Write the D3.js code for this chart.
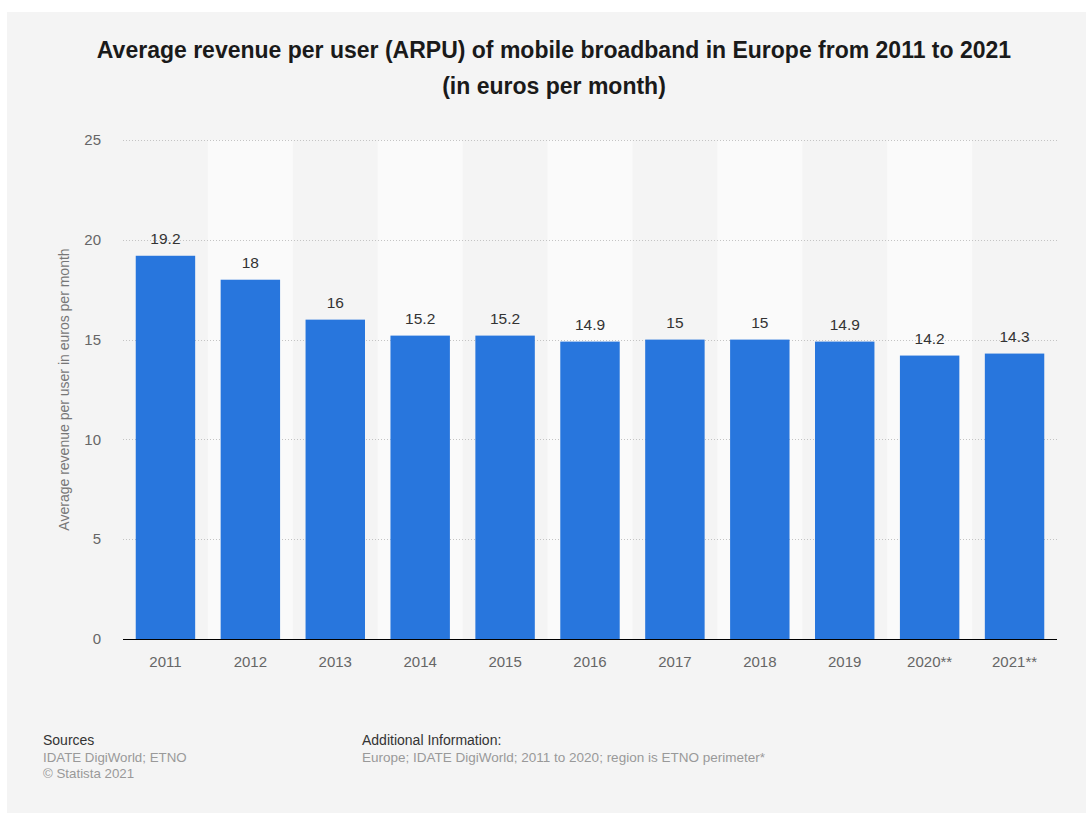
<!DOCTYPE html>
<html>
<head>
<meta charset="utf-8">
<script src="https://cdn.jsdelivr.net/npm/d3@7"></script>
<style>
  html, body { margin: 0; padding: 0; background: #ffffff; }
  svg { display: block; font-family: "Liberation Sans", Arial, Helvetica, sans-serif; }
</style>
</head>
<body>
<svg id="chart" width="1086" height="813"></svg>
<script>
const categories = ["2011", "2012", "2013", "2014", "2015", "2016", "2017", "2018", "2019", "2020**", "2021**"];
const values = [19.2, 18, 16, 15.2, 15.2, 14.9, 15, 15, 14.9, 14.2, 14.3];
const valueLabels = ["19.2", "18", "16", "15.2", "15.2", "14.9", "15", "15", "14.9", "14.2", "14.3"];
const yTicks = [0, 5, 10, 15, 20, 25];
const titleLines = ["Average revenue per user (ARPU) of mobile broadband in Europe from 2011 to 2021", "(in euros per month)"];
const yAxisTitle = "Average revenue per user in euros per month";
const sourcesLines = ["IDATE DigiWorld; ETNO", "© Statista 2021"];
const additionalInfo = "Europe; IDATE DigiWorld; 2011 to 2020; region is ETNO perimeter*";

const svg = d3.select("#chart");
const W = 1086, H = 813;

// background
svg.append("rect").attr("x", 7).attr("y", 12).attr("width", W - 7).attr("height", H - 12).attr("fill", "#f4f4f4");

const plot = { left: 123, right: 1057, top: 140, bottom: 639 };

const x = d3.scaleBand().domain(categories).range([plot.left, plot.right]).paddingInner(0.3).paddingOuter(0.15);
const xBand = d3.scaleBand().domain(categories).range([plot.left, plot.right]).padding(0);
const y = d3.scaleLinear().domain([0, 25]).range([plot.bottom, plot.top]);

// alternating bands
svg.append("g").selectAll("rect").data(categories.filter((d, i) => i % 2 === 1)).join("rect")
  .attr("x", d => xBand(d)).attr("width", xBand.bandwidth())
  .attr("y", plot.top).attr("height", plot.bottom - plot.top)
  .attr("fill", "#fafafa");

// gridlines
svg.append("g").selectAll("line").data(yTicks.filter(t => t > 0)).join("line")
  .attr("x1", plot.left).attr("x2", plot.right)
  .attr("y1", d => Math.round(y(d)) + 0.5).attr("y2", d => Math.round(y(d)) + 0.5)
  .attr("stroke", "#c4c4c4").attr("stroke-width", 1).attr("stroke-dasharray", "1,2");

// y tick labels
svg.append("g").selectAll("text").data(yTicks).join("text")
  .attr("x", 101).attr("y", d => y(d)).attr("dy", "0.35em")
  .attr("text-anchor", "end").attr("font-size", 15).attr("fill", "#666")
  .text(d => d);

// y axis title
svg.append("text")
  .attr("transform", `translate(69, ${(plot.top + plot.bottom) / 2}) rotate(-90)`)
  .attr("text-anchor", "middle").attr("font-size", 14).attr("fill", "#777")
  .text(yAxisTitle);

// bars
svg.append("g").selectAll("rect").data(values).join("rect")
  .attr("x", (d, i) => x(categories[i])).attr("width", x.bandwidth())
  .attr("y", d => y(d)).attr("height", d => plot.bottom - y(d))
  .attr("fill", "#2876dd");

// value labels
svg.append("g").selectAll("text").data(values).join("text")
  .attr("x", (d, i) => x(categories[i]) + x.bandwidth() / 2)
  .attr("y", d => y(d) - 12)
  .attr("text-anchor", "middle").attr("font-size", 15.5).attr("fill", "#333")
  .text((d, i) => valueLabels[i]);

// x axis line
svg.append("line").attr("x1", plot.left).attr("x2", plot.right)
  .attr("y1", plot.bottom + 0.5).attr("y2", plot.bottom + 0.5)
  .attr("stroke", "#000").attr("stroke-width", 1);

// x labels
svg.append("g").selectAll("text").data(categories).join("text")
  .attr("x", d => x(d) + x.bandwidth() / 2).attr("y", 667)
  .attr("text-anchor", "middle").attr("font-size", 15).attr("fill", "#666")
  .text(d => d);

// title
svg.append("g").selectAll("text").data(titleLines).join("text")
  .attr("x", 554).attr("y", (d, i) => 58 + i * 36)
  .attr("text-anchor", "middle").attr("font-size", 23).attr("font-weight", "bold").attr("fill", "#1a1a1a")
  .text(d => d);

// footer
svg.append("text").attr("x", 43).attr("y", 745).attr("font-size", 14).attr("fill", "#333").text("Sources");
svg.append("g").selectAll("text").data(sourcesLines).join("text")
  .attr("x", 43).attr("y", (d, i) => 762 + i * 16).attr("font-size", 13.3).attr("fill", "#999")
  .text(d => d);
svg.append("text").attr("x", 362).attr("y", 745).attr("font-size", 14).attr("fill", "#333").text("Additional Information:");
svg.append("text").attr("x", 362).attr("y", 762).attr("font-size", 13.5).attr("fill", "#999").text(additionalInfo);
</script>
</body>
</html>
